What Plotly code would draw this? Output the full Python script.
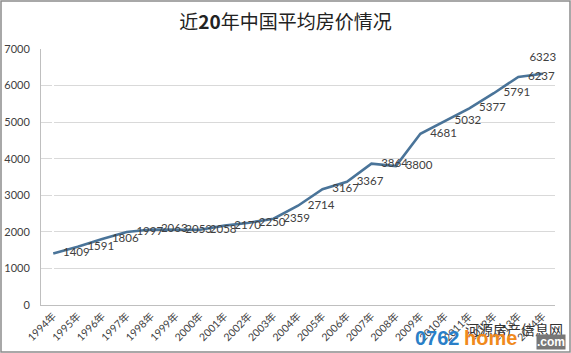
import plotly.graph_objects as go

years = [f"{y}年" for y in range(1994, 2015)]
prices = [1409, 1591, 1806, 1997, 2063, 2053, 2058, 2170, 2250, 2359, 2714,
          3167, 3367, 3864, 3800, 4681, 5032, 5377, 5791, 6237, 6323]
y_ticks = [0, 1000, 2000, 3000, 4000, 5000, 6000, 7000]

L, R, T, B = 41, 16, 49, 48
W, H = 571, 353
pw, ph = W - L - R, H - T - B

def px(x):
    return (x - L) / pw

def py(y):
    return (H - B - y) / ph

positions = ["middle right"] * (len(prices) - 1) + ["top center"]

fig = go.Figure()
fig.add_trace(go.Scatter(
    x=list(range(len(years))), y=prices, mode="lines+markers+text",
    line=dict(color="#4a7499", width=2.6),
    marker=dict(size=14, color="rgba(0,0,0,0)"),
    text=[str(v) for v in prices], textposition=positions,
    textfont=dict(family="Lato, Noto Sans", size=11.5, color="#404040"),
    hoverinfo="skip", cliponaxis=False,
))

fig.update_layout(
    width=W, height=H, margin=dict(l=L, r=R, t=T, b=B, autoexpand=False),
    paper_bgcolor="white", plot_bgcolor="white", showlegend=False,
    title=dict(text="近<b>20</b>年中国平均房价情况", x=0.5, xanchor="center",
               y=1 - 22 / H, yanchor="middle",
               font=dict(family="Noto Sans CJK SC", size=19, color="#222222")),
    xaxis=dict(range=[-0.5, len(years) - 0.5], tickmode="array", automargin=False,
               tickvals=list(range(len(years))), ticktext=years, tickangle=-45,
               showgrid=False, showline=True, linecolor="#bfbfbf", ticks="",
               tickfont=dict(family="Lato, Noto Sans CJK SC", size=10.5, color="#404040")),
    yaxis=dict(range=[0, 7000], tickvals=y_ticks, showgrid=True, gridcolor="#d9d9d9",
               automargin=False,
               gridwidth=1.2, showline=True, linecolor="#bfbfbf", zeroline=False, ticks="",
               ticklabelstandoff=8,
               tickfont=dict(family="Lato, Noto Sans", size=11, color="#404040")),
    shapes=[dict(type="rect", xref="paper", yref="paper",
                 x0=px(1), x1=px(570), y0=py(352), y1=py(1),
                 line=dict(color="#8c8c8c", width=1.5), fillcolor="rgba(0,0,0,0)",
                 layer="below")],
    annotations=[
        dict(text="河源房产信息网", xref="paper", yref="paper", x=px(565), y=py(329),
             xanchor="right", yanchor="middle", showarrow=False,
             font=dict(family="Noto Sans CJK SC", size=14, color="#333333")),
        dict(text="<b>0762</b>", xref="paper", yref="paper", x=px(462), y=py(351),
             xanchor="right", yanchor="bottom", showarrow=False,
             font=dict(family="Liberation Sans", size=20, color="#2a7fc8")),
        dict(text="<b>home</b>", xref="paper", yref="paper", x=px(462), y=py(351),
             xanchor="left", yanchor="bottom", showarrow=False,
             font=dict(family="Liberation Sans", size=20, color="#f08a1c")),
        dict(text="<b>.com</b>", xref="paper", yref="paper", x=px(566), y=py(350),
             xanchor="right", yanchor="bottom", showarrow=False, bgcolor="#777777",
             borderpad=0,
             font=dict(family="Liberation Sans", size=12, color="white")),
    ],
)

fig.write_html("out.html")
